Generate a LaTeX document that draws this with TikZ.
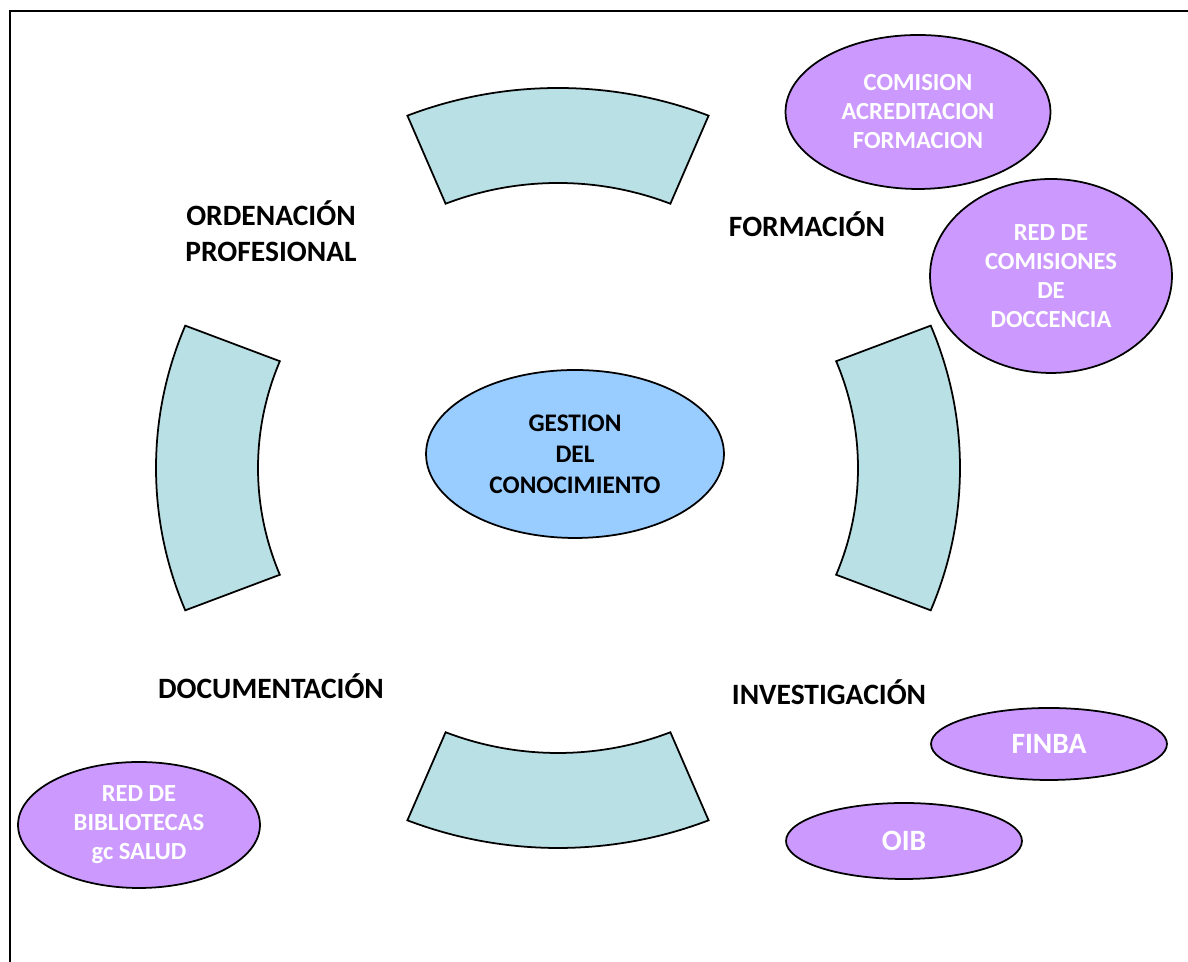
\documentclass[tikz,border=0pt]{standalone}
\usepackage{fontspec}
\setmainfont{Carlito}
\usepackage{tikz}
\usetikzlibrary{shapes.geometric, calc}

\definecolor{segcolor}{RGB}{185,224,228}
\definecolor{lila}{RGB}{204,153,255}
\definecolor{celeste}{RGB}{153,204,255}

\tikzset{
 segment/.style = {draw, fill=segcolor, line width=1pt},
 bubble/.style = {ellipse, draw, fill=lila, text=white, line width=1pt, inner sep=0pt,
  font=\bfseries\fontsize{14}{16.5}\selectfont},
 area/.style = {font=\bfseries\fontsize{16.8}{20.4}\selectfont}
}

\begin{document}
\begin{tikzpicture}[x=0.02cm, y=0.02cm, every node/.style = {align=center}]
 \useasboundingbox (0,0) rectangle (1188,962);
 % frame
 \draw[line width=1.4pt] (10,0) -- (10,951) -- (1188,951);

 % ring segments
 \coordinate (c) at (558,494);
 \draw[segment] ($(c)+(68:402 and 380)$) arc[start angle=68, end angle=112, x radius=402, y radius=380]
  -- ($(c)+(112:300 and 285)$) arc[start angle=112, end angle=68, x radius=300, y radius=285] -- cycle;
 \draw[segment] ($(c)+(158:402 and 380)$) arc[start angle=158, end angle=202, x radius=402, y radius=380]
  -- ($(c)+(202:300 and 285)$) arc[start angle=202, end angle=158, x radius=300, y radius=285] -- cycle;
 \draw[segment] ($(c)+(248:402 and 380)$) arc[start angle=248, end angle=292, x radius=402, y radius=380]
  -- ($(c)+(292:300 and 285)$) arc[start angle=292, end angle=248, x radius=300, y radius=285] -- cycle;
 \draw[segment] ($(c)+(-22:402 and 380)$) arc[start angle=-22, end angle=22, x radius=402, y radius=380]
  -- ($(c)+(22:300 and 285)$) arc[start angle=22, end angle=-22, x radius=300, y radius=285] -- cycle;

 % centre
 \node (gestion) [ellipse, draw, fill=celeste, line width=1pt, inner sep=0pt,
  minimum width=5.96cm, minimum height=3.36cm,
  font=\bfseries\fontsize{14.4}{17.6}\selectfont] at (575,508) {GESTION\\DEL\\CONOCIMIENTO};

 % areas
 \node (ordenacion) [area] at (271,731) {ORDENACIÓN\\PROFESIONAL};
 \node (formacion) [area] at (807,738) {FORMACIÓN};
 \node (documentacion) [area] at (271,276) {DOCUMENTACIÓN};
 \node (investigacion) [area] at (829,270) {INVESTIGACIÓN};

 % bodies
 \node (comision) [bubble, minimum width=5.3cm, minimum height=3.08cm] at (918,850)
  {COMISION\\ACREDITACION\\FORMACION};
 \node (docencia) [bubble, minimum width=4.84cm, minimum height=3.88cm] at (1051,686)
  {RED DE\\COMISIONES\\DE\\DOCCENCIA};
 \node (finba) [bubble, minimum width=4.72cm, minimum height=1.44cm,
  font=\bfseries\fontsize{16.8}{20}\selectfont] at (1049,218) {FINBA};
 \node (oib) [bubble, minimum width=4.72cm, minimum height=1.52cm,
  font=\bfseries\fontsize{16.8}{20}\selectfont] at (904,121) {OIB};
 \node (bibliotecas) [bubble, minimum width=4.84cm, minimum height=2.52cm] at (139,137)
  {RED DE\\BIBLIOTECAS\\gc SALUD};
\end{tikzpicture}
\end{document}
